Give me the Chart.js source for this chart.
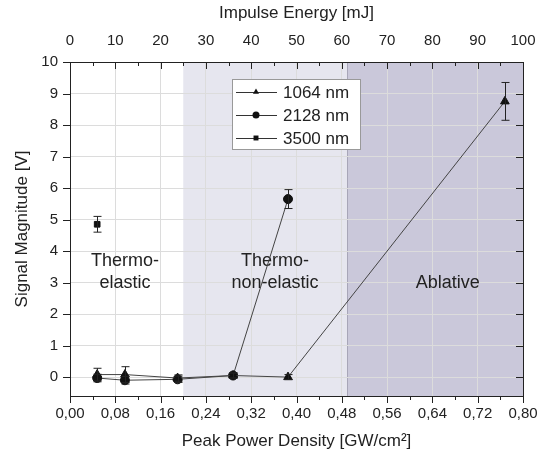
<!DOCTYPE html>
<html>
<head>
<meta charset="utf-8">
<script src="https://cdn.jsdelivr.net/npm/chart.js@4.4.0/dist/chart.umd.min.js"></script>
<style>
  html, body { margin: 0; padding: 0; background: #fff; }
</style>
</head>
<body>
<canvas id="c" width="548" height="455"></canvas>
<script>
// data
const seriesNames = ["1064 nm", "2128 nm", "3500 nm"];
const x1064 = [0.048, 0.097, 0.19, 0.288, 0.385, 0.768];
const y1064 = [0.08, 0.08, -0.03, 0.05, 0.0, 8.75];
const e1064 = [0.2, 0.25, 0.1, 0.08, 0.08, 0.6];
const x2128 = [0.048, 0.097, 0.19, 0.288, 0.385];
const y2128 = [-0.03, -0.1, -0.07, 0.05, 5.65];
const e2128 = [0.12, 0.12, 0.1, 0.08, 0.3];
const x3500 = [0.048];
const y3500 = [4.85];
const e3500 = [0.25];

const regionBounds = [0.20, 0.49, 0.80];
const regionNames = [["Thermo-", "elastic"], ["Thermo-", "non-elastic"], ["Ablative"]];
const regionTextX = [0.097, 0.362, 0.667];

const FONT = "'Liberation Sans', Arial, sans-serif";
const fmt = v => v.toFixed(2).replace(".", ",");
const pts = (xs, ys) => xs.map((x, i) => ({ x: x, y: ys[i] }));

const overlay = {
  id: "overlay",
  beforeDraw(chart) {
    const { ctx, chartArea: a, scales } = chart;
    const sx = scales.x;
    const x0 = sx.getPixelForValue(regionBounds[0]);
    const x1 = sx.getPixelForValue(regionBounds[1]);
    const x2 = sx.getPixelForValue(regionBounds[2]);
    ctx.save();
    ctx.fillStyle = "#e6e6ef";
    ctx.fillRect(x0, a.top, x1 - x0, a.bottom - a.top);
    ctx.fillStyle = "#cac8da";
    ctx.fillRect(x1, a.top, x2 - x1, a.bottom - a.top);
    ctx.strokeStyle = "#a8a6b8";
    ctx.lineWidth = 1;
    ctx.beginPath();
    ctx.moveTo(Math.round(x1) + 0.5, a.top);
    ctx.lineTo(Math.round(x1) + 0.5, a.bottom);
    ctx.stroke();
    ctx.restore();
  },
  beforeDatasetsDraw(chart) {
    const { ctx, scales } = chart;
    ctx.save();
    ctx.font = "18px " + FONT;
    ctx.fillStyle = "#222";
    ctx.textAlign = "center";
    ctx.textBaseline = "middle";
    regionNames.forEach((lines, i) => {
      const px = scales.x.getPixelForValue(regionTextX[i]);
      const base = scales.y.getPixelForValue(3.0);
      lines.forEach((t, j) => {
        ctx.fillText(t, px, base - (lines.length - 1 - j) * 22);
      });
    });
    ctx.restore();
  },
  afterDatasetsDraw(chart) {
    const { ctx, scales } = chart;
    ctx.save();
    ctx.strokeStyle = "#222";
    ctx.lineWidth = 1;
    chart.data.datasets.forEach(ds => {
      ds.data.forEach((p, i) => {
        const e = ds.errors[i];
        const px = Math.round(scales.x.getPixelForValue(p.x)) + 0.5;
        const top = scales.y.getPixelForValue(p.y + e);
        const bot = scales.y.getPixelForValue(p.y - e);
        ctx.beginPath();
        ctx.moveTo(px, top); ctx.lineTo(px, bot);
        ctx.moveTo(px - 4, top); ctx.lineTo(px + 4, top);
        ctx.moveTo(px - 4, bot); ctx.lineTo(px + 4, bot);
        ctx.stroke();
      });
    });
    ctx.restore();
  },
  afterDraw(chart) {
    const { ctx, chartArea: a, scales } = chart;
    ctx.save();
    ctx.strokeStyle = "#222";
    ctx.lineWidth = 1;
    ctx.beginPath();
    // axis ticks: majors from the scales, minors halfway between
    const hor = (scale, y, dir, withMinor) => {
      const t = scale.ticks.map(k => k.value);
      t.forEach((v, i) => {
        const px = Math.round(scale.getPixelForValue(v)) + 0.5;
        ctx.moveTo(px, y); ctx.lineTo(px, y + dir * 7);
        if (withMinor && i < t.length - 1) {
          const m = Math.round(scale.getPixelForValue((v + t[i + 1]) / 2)) + 0.5;
          ctx.moveTo(m, y); ctx.lineTo(m, y + dir * 4);
        }
      });
    };
    const ver = (scale, x, dir) => {
      scale.ticks.forEach(k => {
        const py = Math.round(scale.getPixelForValue(k.value)) + 0.5;
        ctx.moveTo(x, py); ctx.lineTo(x + dir * 7, py);
      });
    };
    hor(scales.x, a.bottom, 1, true);
    hor(scales.x2, a.top, 1, true);
    ver(scales.y, a.left, -1);
    ver(scales.y2, a.right, -1);
    ctx.stroke();

    // legend box
    const lx = 232, ly = 79, lw = 128, lh = 70;
    ctx.fillStyle = "#fff";
    ctx.fillRect(lx, ly, lw, lh);
    ctx.strokeStyle = "#999";
    ctx.strokeRect(lx + 0.5, ly + 0.5, lw, lh);
    ctx.font = "17px " + FONT;
    ctx.textBaseline = "middle";
    ctx.textAlign = "left";
    chart.data.datasets.forEach((ds, i) => {
      const ry = ly + 13 + i * 23;
      ctx.strokeStyle = "#333";
      ctx.beginPath();
      ctx.moveTo(lx + 4, ry + 0.5); ctx.lineTo(lx + 45, ry + 0.5);
      ctx.stroke();
      ctx.fillStyle = "#111";
      Chart.helpers.drawPoint(ctx, { pointStyle: ds.pointStyle, radius: 3.5, rotation: 0, borderWidth: 0 }, lx + 24, ry);
      ctx.fillStyle = "#222";
      ctx.fillText(ds.label, lx + 51, ry + 1);
    });
    ctx.restore();
  }
};

const mkSet = (label, xs, ys, es, style, r) => ({
  label: label,
  data: pts(xs, ys),
  errors: es,
  showLine: true,
  borderColor: "#444",
  borderWidth: 1,
  pointStyle: style,
  pointRadius: r,
  pointBackgroundColor: "#111",
  pointBorderColor: "#111",
  pointBorderWidth: 1
});

new Chart(document.getElementById("c"), {
  type: "scatter",
  data: {
    datasets: [
      mkSet(seriesNames[0], x1064, y1064, e1064, "triangle", 5),
      mkSet(seriesNames[1], x2128, y2128, e2128, "circle", 4.5),
      mkSet(seriesNames[2], x3500, y3500, e3500, "rect", 4)
    ]
  },
  options: {
    responsive: false,
    animation: false,
    devicePixelRatio: 1,
    layout: { padding: 0 },
    plugins: { legend: { display: false }, tooltip: { enabled: false } },
    scales: {
      x: {
        type: "linear", position: "bottom", min: 0, max: 0.8,
        afterFit: s => { s.height = 59; },
        ticks: { stepSize: 0.08, callback: v => fmt(v), padding: 9, color: "#222", font: { family: FONT, size: 15 }, maxRotation: 0 },
        grid: { color: "#dcdcdc", drawTicks: false },
        border: { color: "#222", width: 1 },
        title: { display: true, text: "Peak Power Density [GW/cm²]", color: "#222", font: { family: FONT, size: 17 }, padding: { top: 0, bottom: 3 } }
      },
      x2: {
        type: "linear", position: "top", min: 0, max: 100,
        afterFit: s => { s.height = 62; },
        ticks: { stepSize: 10, padding: 12, color: "#222", font: { family: FONT, size: 15 }, maxRotation: 0 },
        grid: { drawOnChartArea: false, drawTicks: false },
        border: { color: "#222", width: 1 },
        title: { display: true, text: "Impulse Energy [mJ]", color: "#222", font: { family: FONT, size: 17 }, padding: { top: 3, bottom: 0 } }
      },
      y: {
        type: "linear", position: "left", min: -0.6, max: 10,
        afterFit: s => { s.width = 70; },
        ticks: { stepSize: 1, includeBounds: false, padding: 12, color: "#222", font: { family: FONT, size: 15 } },
        grid: { color: "#dcdcdc", drawTicks: false },
        border: { color: "#222", width: 1 },
        title: { display: true, text: "Signal Magnitude [V]", color: "#222", font: { family: FONT, size: 17 }, padding: { top: 12, bottom: 0 } }
      },
      y2: {
        type: "linear", position: "right", min: -0.6, max: 10,
        afterFit: s => { s.width = 25; },
        ticks: { stepSize: 1, includeBounds: false, display: false },
        grid: { drawOnChartArea: false, drawTicks: false },
        border: { color: "#222", width: 1 }
      }
    }
  },
  plugins: [overlay]
});
</script>
</body>
</html>
